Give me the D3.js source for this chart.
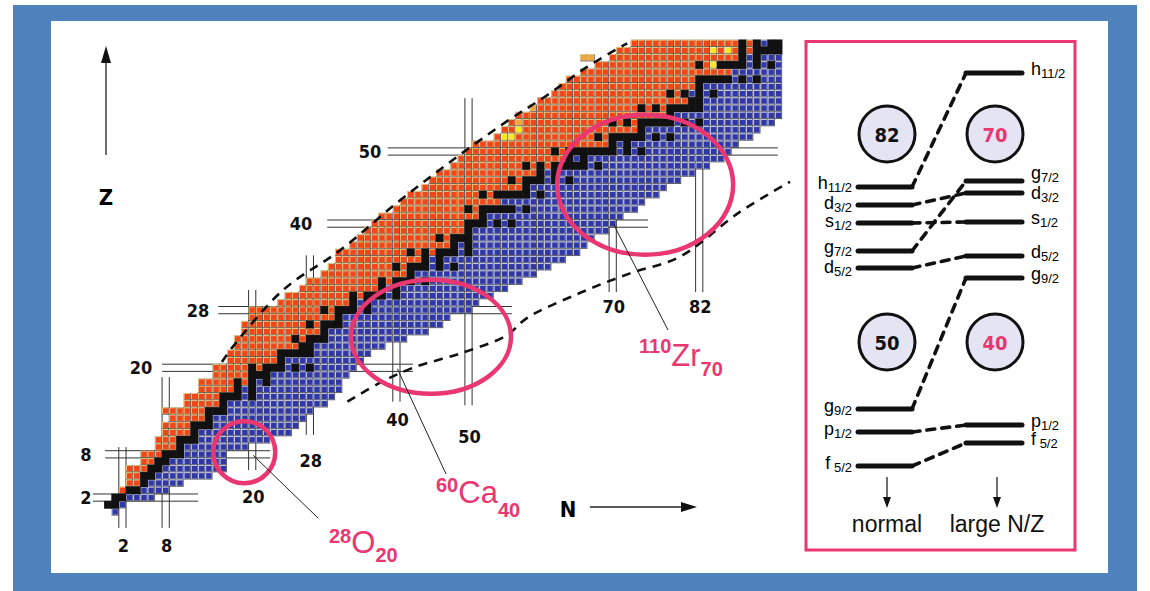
<!DOCTYPE html>
<html>
<head>
<meta charset="utf-8">
<script src="https://cdn.jsdelivr.net/npm/d3@7"></script>
<style>
body{margin:0;background:#fff;}
</style>
</head>
<body>
<script>
// rows are proton number Z = 0..65 (array index), values are neutron numbers N
var nMin = [1,0,1,2,3,3,3,5,5,7, 7,8,8,9,8,11,11,13,13,15,
            15,17,17,18,18,19,19,20,20,24, 25,27,28,30,31,32,32,34,35,36,
            37,38,40,41,42,44,45,46,48,49, 50,51,54,55,56,57,59,60,62,63,
            64,66,68,70,71,73];
var nMax = [1,2,6,8,10,14,16,16,16,19, 22,25,26,27,28,30,31,32,32,33,
            34,35,36,38,41,44,46,47,50,51, 53,55,57,59,61,63,65,66,67,69,
            70,71,73,74,76,77,79,81,83,85, 86,87,89,90,92,93,93,93,93,93,
            93,93,93,93,93,93];
// stable (black) nuclides, N values per Z
var stableN = [[],[0,1],[1,2],[3,4],[5],[5,6],[6,7],[7,8],[8,9,10],[10],
  [10,11,12],[12],[12,13,14],[14],[14,15,16],[16],[16,17,18,20],[18,20],[18,20,22],[20,21,22],
  [20,22,23,24,26,28],[24],[24,25,26,27,28],[27,28],[26,28,29,30],[30],[28,30,31,32],[32],[30,32,33,34,36],[34,36],
  [34,36,37,38,40],[38,40],[38,40,41,42,44],[42],[40,42,43,44,46,48],[44,46],[42,44,46,47,48,50],[48,50],[46,48,49,50],[50],
  [50,51,52,54,56],[52],[50,52,53,54,55,56,58],[],[52,54,55,56,57,58,60],[58],[56,58,59,60,62,64],[60,62],[58,60,62,63,64,65,66,68],[64,66],
  [62,64,65,66,67,68,69,70,72,74],[70,72],[68,70,71,72,73,74,76,78],[74],[70,72,74,75,76,77,78,80,82],[78],[74,76,78,79,80,81,82],[81,82],[78,80,82,84],[82],
  [82,83,84,85,86,88,90],[],[82,85,86,87,88,90,92],[88,90],[88,90,91,92,93,94,96],[88,90,92,93,94]];
// alpha emitters (yellow) and mixed alpha/beta+ (light orange), [N, Z]
var alphaCells = [[55,52],[56,52],[57,53],[84,64],[86,64],[84,62]];
var mixedCells = [[57,54],[59,56],[66,63],[67,63]];

// magic numbers with the stretch of their double lines
var magicN = [2,8,20,28,40,50,70,82];
var magicNFrom = [-2.2,-2.2,5.8,10.7,15.3,14.8,30.5,30.5];
var magicNTo = [9,18.7,30.8,35.6,38.4,57.4,43.3,48.8];
var magicZ = [2,8,20,28,40,50];
var magicZFrom = [-2.1,-0.4,7.5,15.3,30.4,38.8];
var magicZTo = [12.5,22.5,42.3,56,74.9,92.9];

// drip lines, [N, Z]
var protonDrip = [[15.8,20.8],[17.3,22.9],[24.3,30.8],[32.2,36.3],[40.1,42.9],[47.4,48.5],[55.2,54.1],[60.9,57.8],[66.4,61.7],[72,65]];
var neutronDrip = [[33.2,15.3],[37.7,17.9],[42.3,20],[49.2,22.1],[55.3,24.5],[58.1,26.9],[65.5,30.4],[72.4,33.1],[79.3,35.4],[87.6,41.6],[94.6,45.8]];

// shell levels in the right panel (arbitrary energy units)
var shellL = ["h","d","s","g","d","g","p","f"];
var shellJ = ["11/2","3/2","1/2","7/2","5/2","9/2","1/2"," 5/2"];
var eNormal = [323,305,287,259,242,101,78,44];
var eLarge = [437,317,288,329,254,232,85,67];
var gapNormal = ["82","50"], gapLarge = ["70","40"];
var gapE = [376,168];

var W = 1150, H = 591, cw = 7.21;
var pink = "#ea3671";

var svg = d3.select("body").append("svg")
  .attr("width", W).attr("height", H)
  .style("font-family", "'Liberation Sans', Arial, sans-serif");

svg.append("rect").attr("x", 13).attr("y", 5).attr("width", 1124).attr("height", 586).attr("fill", "#4f81bd");
svg.append("rect").attr("x", 51).attr("y", 21).attr("width", 1057).attr("height", 552).attr("fill", "#fff");

var x = d3.scaleLinear().domain([0, 93]).range([108, 108 + 93 * cw]);
var y = d3.scaleLinear().domain([0, 65]).range([512, 512 - 65 * cw]);

//build the cell list
var cells = [];
function midOf(z) {
  var s = stableN[z];
  if (s && s.length) return (s[0] + s[s.length - 1]) / 2;
  return null;
}
function isIn(list, n, z) {
  return list.some(function(c) { return c[0] == n && c[1] == z; });
}
nMin.forEach(function(lo, z) {
  var hi = Math.min(nMax[z], 93);
  var mid = midOf(z);
  if (mid == null) mid = z == 0 ? 0 : (midOf(z - 1) + midOf(z + 1)) / 2;
  for (var n = lo; n <= hi; n++) {
    var k;
    if (stableN[z].indexOf(n) >= 0) k = "s";
    else if (isIn(alphaCells, n, z)) k = "a";
    else if (isIn(mixedCells, n, z)) k = "o";
    else k = n < mid ? "p" : "n";
    cells.push({n: n, z: z, k: k});
  }
});
mixedCells.forEach(function(c) {
  if (c[0] < nMin[c[1]]) cells.push({n: c[0], z: c[1], k: "o"});
});

//magic number double lines (under the cells)
var gl = svg.append("g").attr("stroke", "#333").attr("stroke-width", 1);
magicN.forEach(function(m, i) {
  [-cw / 2, cw / 2].forEach(function(o) {
    gl.append("line").attr("x1", x(m) + o).attr("x2", x(m) + o)
      .attr("y1", y(magicNFrom[i])).attr("y2", y(magicNTo[i]));
  });
});
magicZ.forEach(function(m, i) {
  [-cw / 2, cw / 2].forEach(function(o) {
    gl.append("line").attr("y1", y(m) + o).attr("y2", y(m) + o)
      .attr("x1", x(magicZFrom[i])).attr("x2", x(magicZTo[i]));
  });
});

var pal = {
  p: ["#f5d98a", "#f2461a"],
  n: ["#d8dbf5", "#3038a8"],
  a: ["#fff7a8", "#ffe61a"],
  o: ["#f9dc9a", "#f3a53a"]
};
var gc = svg.append("g");
var col = cells.filter(function(d) { return d.k != "s"; });
gc.selectAll("rect.frame").data(col).join("rect").attr("class", "frame")
  .attr("x", function(d) { return x(d.n) - cw / 2; })
  .attr("y", function(d) { return y(d.z) - cw / 2; })
  .attr("width", cw).attr("height", cw).attr("fill", "#555");
gc.selectAll("rect.hi").data(col).join("rect").attr("class", "hi")
  .attr("x", function(d) { return x(d.n) - cw / 2; })
  .attr("y", function(d) { return y(d.z) - cw / 2; })
  .attr("width", cw - 0.9).attr("height", cw - 0.9)
  .attr("fill", function(d) { return pal[d.k][0]; });
gc.selectAll("rect.body").data(col).join("rect").attr("class", "body")
  .attr("x", function(d) { return x(d.n) - cw / 2 + 0.8; })
  .attr("y", function(d) { return y(d.z) - cw / 2 + 0.8; })
  .attr("width", cw - 1.8).attr("height", cw - 1.8)
  .attr("fill", function(d) { return pal[d.k][1]; });
gc.selectAll("rect.stable").data(cells.filter(function(d) { return d.k == "s"; }))
  .join("rect").attr("class", "stable")
  .attr("x", function(d) { return x(d.n) - cw / 2 - 0.3; })
  .attr("y", function(d) { return y(d.z) - cw / 2 - 0.3; })
  .attr("width", cw + 0.6).attr("height", cw + 0.6).attr("fill", "#111");

//drip lines
var line = d3.line().x(function(d) { return x(d[0]); }).y(function(d) { return y(d[1]); })
  .curve(d3.curveCatmullRom);
[protonDrip, neutronDrip].forEach(function(p) {
  svg.append("path").attr("d", line(p)).attr("fill", "none")
    .attr("stroke", "#111").attr("stroke-width", 2.6).attr("stroke-dasharray", "9,7");
});

//magic number labels
var numFont = "'DejaVu Sans Condensed','DejaVu Sans',sans-serif";
var nLabelY = [545, 545, 496, 460, 419, 436, 306, 306];
magicN.forEach(function(m, i) {
  svg.append("text").attr("x", x(m) + 1).attr("y", nLabelY[i] + 6.5)
    .attr("text-anchor", "middle").attr("font-family", numFont).attr("font-weight", "bold")
    .attr("font-size", 18).attr("fill", "#111").text(m);
});
var zLabelX = [86, 86, 141, 198, 301, 370];
magicZ.forEach(function(m, i) {
  svg.append("text").attr("x", zLabelX[i]).attr("y", y(m) + 6.5)
    .attr("text-anchor", "middle").attr("font-family", numFont).attr("font-weight", "bold")
    .attr("font-size", 18).attr("fill", "#111").text(m);
});

//axis arrows
svg.append("line").attr("x1", 106).attr("x2", 106).attr("y1", 155).attr("y2", 60)
  .attr("stroke", "#222").attr("stroke-width", 1.3);
svg.append("path").attr("d", "M106,46 L101,63 L111,63 Z").attr("fill", "#111");
svg.append("text").attr("x", 106).attr("y", 205).attr("text-anchor", "middle")
  .attr("font-family", numFont).attr("font-weight", "bold").attr("font-size", 22).text("Z");
svg.append("line").attr("x1", 590).attr("x2", 684).attr("y1", 507).attr("y2", 507)
  .attr("stroke", "#222").attr("stroke-width", 1.3);
svg.append("path").attr("d", "M697,507 L681,502 L681,512 Z").attr("fill", "#111");
svg.append("text").attr("x", 568).attr("y", 517).attr("text-anchor", "middle")
  .attr("font-family", numFont).attr("font-weight", "bold").attr("font-size", 22).text("N");

//pink rings
var ge = svg.append("g").attr("fill", "none").attr("stroke", pink).attr("stroke-width", 4.5);
ge.append("ellipse").attr("cx", x(18.9)).attr("cy", y(8.3)).attr("rx", 31).attr("ry", 31);
ge.append("ellipse").attr("cx", x(44.8)).attr("cy", y(24.3)).attr("rx", 80).attr("ry", 57);
ge.append("ellipse").attr("cx", x(74.5)).attr("cy", y(45.4)).attr("rx", 88).attr("ry", 70);

//leaders and nucleus labels
var leaders = [[20, 8, 318, 518], [40, 20, 446, 474], [70, 40, 668, 330]];
leaders.forEach(function(l) {
  svg.append("line").attr("x1", x(l[0]) + 1).attr("y1", y(l[1]) + 1)
    .attr("x2", l[2]).attr("y2", l[3]).attr("stroke", "#222").attr("stroke-width", 1);
});
var narrow = "'Liberation Sans Narrow','Liberation Sans',sans-serif";
function nucl(px, py, a, sym, n, d1, d2) {
  var t = svg.append("text").attr("x", px).attr("y", py).attr("fill", pink).attr("font-family", narrow);
  t.append("tspan").attr("font-size", 20).attr("font-weight", "bold").text(a);
  t.append("tspan").attr("dy", d1).attr("font-size", 31).text(sym);
  t.append("tspan").attr("dy", d2).attr("font-size", 20).attr("font-weight", "bold").text(n);
}
nucl(329, 543, "28", "O", "20", 10, 9);
nucl(436, 492, "60", "Ca", "40", 11, 14);
nucl(639, 353, "110", "Zr", "70", 13, 10);

//right panel
var pn = svg.append("g");
pn.append("rect").attr("x", 806).attr("y", 41.5).attr("width", 269).attr("height", 508.5)
  .attr("fill", "#fff").attr("stroke", pink).attr("stroke-width", 3);
var eY = d3.scaleLinear().domain([0, 440]).range([510, 70]);
var lx = [858, 912], rx = [966, 1022];
var nudgeL = [-1, 1, 1, -1, 2, 0, 0, 0], nudgeR = [0, 4, 0, -4, 0, 0, 0, 0];
eNormal.forEach(function(e, i) {
  var yl = eY(e), yr = eY(eLarge[i]);
  pn.append("line").attr("x1", lx[0]).attr("x2", lx[1]).attr("y1", yl).attr("y2", yl);
  pn.append("line").attr("x1", rx[0]).attr("x2", rx[1]).attr("y1", yr).attr("y2", yr);
  pn.append("line").attr("x1", lx[1]).attr("x2", rx[0]).attr("y1", yl).attr("y2", yr)
    .attr("stroke-dasharray", "8,7").attr("stroke-width", 3.6);
  var tl = pn.append("text").attr("x", 852).attr("y", yl + 3 + nudgeL[i]).attr("text-anchor", "end").attr("font-size", 18);
  tl.append("tspan").text(shellL[i]);
  tl.append("tspan").attr("dy", 3).attr("font-size", 13).attr("font-family", narrow).text(shellJ[i]);
  var tr = pn.append("text").attr("x", 1031).attr("y", yr + 2 + nudgeR[i]).attr("font-size", 18);
  tr.append("tspan").text(shellL[i]);
  tr.append("tspan").attr("dy", 3).attr("font-size", 13).attr("font-family", narrow).text(shellJ[i]);
});
pn.selectAll("line").attr("stroke", "#111").attr("stroke-linecap", "round")
  .filter(function() { return !this.getAttribute("stroke-width"); }).attr("stroke-width", 5);

gapE.forEach(function(e, i) {
  [[887, gapNormal[i], "#111"], [995, gapLarge[i], pink]].forEach(function(c) {
    pn.append("circle").attr("cx", c[0]).attr("cy", eY(e)).attr("r", 28)
      .attr("fill", "#e4e4f3").attr("stroke", "#111").attr("stroke-width", 3);
    pn.append("text").attr("x", c[0]).attr("y", eY(e) + 7.5).attr("text-anchor", "middle")
      .attr("font-family", numFont).attr("font-weight", "bold").attr("font-size", 20)
      .attr("fill", c[2]).text(c[1]);
  });
});
[[887, "normal"], [997, "large N/Z"]].forEach(function(c) {
  pn.append("line").attr("x1", c[0]).attr("x2", c[0]).attr("y1", 477).attr("y2", 499)
    .attr("stroke", "#222").attr("stroke-width", 1.3);
  pn.append("path").attr("d", "M" + c[0] + ",508 L" + (c[0] - 4) + ",497 L" + (c[0] + 4) + ",497 Z").attr("fill", "#111");
  pn.append("text").attr("x", c[0]).attr("y", 532).attr("text-anchor", "middle")
    .attr("font-size", 23).attr("fill", "#111").text(c[1]);
});
</script>
</body>
</html>
